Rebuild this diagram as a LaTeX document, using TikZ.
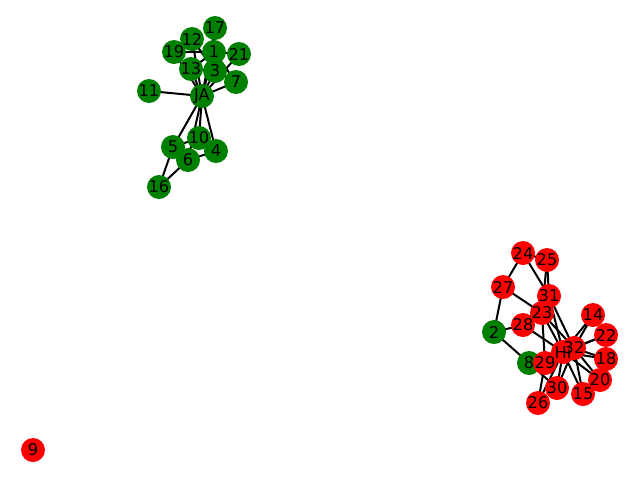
\documentclass[tikz,border=0pt]{standalone}
\usepackage{fontspec}
\setmainfont{DejaVu Sans}
\definecolor{gr}{RGB}{0,128,0}
\definecolor{rd}{RGB}{255,0,0}
\pgfdeclarelayer{bg}
\pgfsetlayers{bg,main}
\begin{document}
\begin{tikzpicture}[x=1pt,y=-1pt,
  vert/.style={circle,minimum size=24pt,inner sep=0pt,draw=none},
  g/.style={vert,fill=gr},
  r/.style={vert,fill=rd},
  lab/.style={font=\fontsize{16.2}{17}\selectfont,inner sep=0pt,text=black},
  edge/.style={line width=2pt,black}]
\useasboundingbox (0,0) rectangle (640,480);
% nodes (circles)
\foreach \n/\x/\y/\c in {
  JA/202/96/g, 1/214/52/g, 2/494/332/g, 3/215/71/g, 4/216/151/g, 5/173/147/g,
  6/188/160/g, 7/236/82/g, 8/529/363/g, 9/33/450/r, 10/199/138/g, 11/149/91/g,
  12/192/39/g, 13/191/69/g, 14/593/315/r, 15/583/394/r, 16/159/187/g,
  17/215/28/g, 18/606/359/r, 19/174/52/g, 20/600/380/r, 21/239/54/g,
  22/606/335/r, 23/542/313/r, 24/523/253/r, 25/547/260/r, 26/538/403/r,
  27/503/287/r, 28/523/325/r, 29/545/363/r, 30/557/388/r, 31/549/296/r,
  Hi/563/352/r, 32/574/348/r}
  {\node[\c] (n\n) at (\x,\y) {};}
% edges
\begin{pgfonlayer}{bg}
\foreach \a/\b in {
  JA/1, JA/3, JA/4, JA/5, JA/6, JA/7, JA/10, JA/11, JA/12, JA/13, JA/17, JA/19, JA/21,
  1/3, 1/7, 1/13, 1/17, 1/19, 1/21, 3/7, 3/12, 3/13, 4/6, 4/10, 5/6, 5/10, 5/16, 6/16,
  2/8, 2/27, 2/28, 8/30, 8/32, 8/Hi, 14/32, 14/Hi, 15/32, 15/Hi, 18/32, 18/Hi,
  20/32, 20/Hi, 22/32, 22/Hi, 23/25, 23/27, 23/29, 23/32, 23/Hi, 24/25, 24/27, 24/31,
  25/31, 26/29, 26/Hi, 28/31, 28/Hi, 29/32, 29/Hi, 30/32, 30/Hi, 31/32, 31/Hi, 32/Hi}
  {\draw[edge] (n\a.center) -- (n\b.center);}
\end{pgfonlayer}
% labels
\foreach \n in {JA,1,2,3,4,5,6,7,8,9,10,11,12,13,14,15,16,17,18,19,20,21,22,23,24,25,26,27,28,29,30,31,Hi,32}
  {\node[lab] (t\n) at (n\n.center) {\n};}
\end{tikzpicture}
\end{document}
